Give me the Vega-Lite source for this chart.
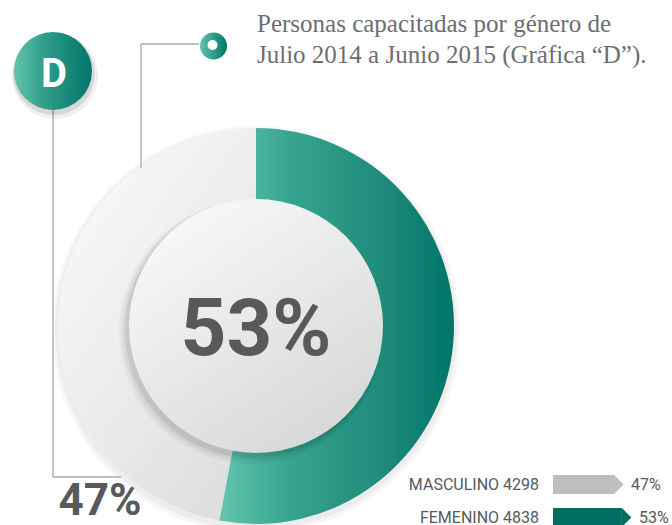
{
  "$schema": "https://vega.github.io/schema/vega-lite/v6.json",
  "width": 672,
  "height": 525,
  "autosize": {"type": "none"},
  "padding": 0,
  "background": "white",
  "config": {"view": {"stroke": null}, "axis": {"disable": true}},
  "data": {"values": [
    {"gender": "Masculino", "legend": "MASCULINO 4298", "count": 4298, "pct": 0.47},
    {"gender": "Femenino", "legend": "FEMENINO 4838", "count": 4838, "pct": 0.53}
  ]},
  "layer": [
    {
      "layer": [
        {
          "transform": [{"aggregate": [{"op": "count", "as": "n"}]}],
          "mark": {"type": "point", "shape": "circle", "filled": true, "fill": "#000", "opacity": 0.03, "size": 166464, "strokeWidth": 0},
          "encoding": {
            "x": {"datum": 256, "type": "quantitative", "scale": {"domain": [0, 672], "nice": false, "zero": false}, "axis": null},
            "y": {"datum": 330, "type": "quantitative", "scale": {"domain": [0, 525], "nice": false, "zero": false, "reverse": true}, "axis": null}
          }
        },
        {
          "transform": [{"aggregate": [{"op": "count", "as": "n"}]}],
          "mark": {"type": "point", "shape": "circle", "filled": true, "fill": "#000", "opacity": 0.04, "size": 161604, "strokeWidth": 0},
          "encoding": {
            "x": {"datum": 256, "type": "quantitative", "scale": {"domain": [0, 672], "nice": false, "zero": false}, "axis": null},
            "y": {"datum": 329, "type": "quantitative", "scale": {"domain": [0, 525], "nice": false, "zero": false, "reverse": true}, "axis": null}
          }
        },
        {
          "mark": {"type": "arc", "outerRadius": 198, "innerRadius": 110, "stroke": null},
          "encoding": {
            "x": {"datum": 256, "type": "quantitative", "scale": {"domain": [0, 672], "nice": false, "zero": false}, "axis": null},
            "y": {"datum": 326, "type": "quantitative", "scale": {"domain": [0, 525], "nice": false, "zero": false, "reverse": true}, "axis": null},
            "theta": {"field": "count", "type": "quantitative", "stack": true},
            "order": {"field": "gender", "sort": "ascending"},
            "fill": {
              "condition": {
                "test": "datum.gender === 'Femenino'",
                "value": {"gradient": "linear", "x1": 0, "y1": 0, "x2": 1, "y2": 0, "stops": [
                  {"offset": 0, "color": "#63c5ae"},
                  {"offset": 0.3, "color": "#36a48f"},
                  {"offset": 0.7, "color": "#1e8a7a"},
                  {"offset": 1, "color": "#00756a"}
                ]}
              },
              "value": {"gradient": "linear", "x1": 0.1, "y1": 0, "x2": 0.8, "y2": 1, "stops": [
                {"offset": 0, "color": "#fbfbfb"},
                {"offset": 1, "color": "#dddede"}
              ]}
            }
          }
        },
        {
          "transform": [{"aggregate": [{"op": "count", "as": "n"}]}],
          "mark": {"type": "point", "shape": "circle", "filled": true, "fill": "#000", "opacity": 0.035, "size": 69696, "strokeWidth": 0},
          "encoding": {
            "x": {"datum": 251, "type": "quantitative", "scale": {"domain": [0, 672], "nice": false, "zero": false}, "axis": null},
            "y": {"datum": 332, "type": "quantitative", "scale": {"domain": [0, 525], "nice": false, "zero": false, "reverse": true}, "axis": null}
          }
        },
        {
          "transform": [{"aggregate": [{"op": "count", "as": "n"}]}],
          "mark": {"type": "point", "shape": "circle", "filled": true, "fill": "#000", "opacity": 0.05, "size": 67600, "strokeWidth": 0},
          "encoding": {
            "x": {"datum": 252, "type": "quantitative", "scale": {"domain": [0, 672], "nice": false, "zero": false}, "axis": null},
            "y": {"datum": 331, "type": "quantitative", "scale": {"domain": [0, 525], "nice": false, "zero": false, "reverse": true}, "axis": null}
          }
        },
        {
          "transform": [{"aggregate": [{"op": "count", "as": "n"}]}],
          "mark": {"type": "point", "shape": "circle", "filled": true, "fill": "#000", "opacity": 0.08, "size": 65536, "strokeWidth": 0},
          "encoding": {
            "x": {"datum": 253, "type": "quantitative", "scale": {"domain": [0, 672], "nice": false, "zero": false}, "axis": null},
            "y": {"datum": 330, "type": "quantitative", "scale": {"domain": [0, 525], "nice": false, "zero": false, "reverse": true}, "axis": null}
          }
        },
        {
          "transform": [{"aggregate": [{"op": "count", "as": "n"}]}],
          "mark": {"type": "point", "shape": "circle", "filled": true, "opacity": 1, "size": 64516, "strokeWidth": 0,
            "fill": {"gradient": "linear", "x1": 0.2, "y1": 0.05, "x2": 0.8, "y2": 0.95, "stops": [
              {"offset": 0, "color": "#f8f8f8"},
              {"offset": 1, "color": "#d6d7d7"}
            ]}},
          "encoding": {
            "x": {"datum": 256, "type": "quantitative", "scale": {"domain": [0, 672], "nice": false, "zero": false}, "axis": null},
            "y": {"datum": 326, "type": "quantitative", "scale": {"domain": [0, 525], "nice": false, "zero": false, "reverse": true}, "axis": null}
          }
        },
        {
          "transform": [{"filter": "datum.gender === 'Femenino'"}],
          "mark": {"type": "text", "align": "center", "baseline": "alphabetic", "fontSize": 80, "fontWeight": "bold", "font": "Roboto", "color": "#58595b"},
          "encoding": {
            "x": {"datum": 256, "type": "quantitative", "scale": {"domain": [0, 672], "nice": false, "zero": false}, "axis": null},
            "y": {"datum": 355, "type": "quantitative", "scale": {"domain": [0, 525], "nice": false, "zero": false, "reverse": true}, "axis": null},
            "text": {"field": "pct", "type": "quantitative", "format": ".0%"}
          }
        },
        {
          "transform": [{"filter": "datum.gender === 'Masculino'"}],
          "mark": {"type": "text", "align": "center", "baseline": "alphabetic", "fontSize": 44, "fontWeight": "bold", "font": "Roboto", "color": "#58595b"},
          "encoding": {
            "x": {"datum": 100, "type": "quantitative", "scale": {"domain": [0, 672], "nice": false, "zero": false}, "axis": null},
            "y": {"datum": 515, "type": "quantitative", "scale": {"domain": [0, 525], "nice": false, "zero": false, "reverse": true}, "axis": null},
            "text": {"field": "pct", "type": "quantitative", "format": ".0%"}
          }
        },
        {
          "transform": [{"aggregate": [{"op": "count", "as": "n"}]}],
          "mark": {"type": "rule", "color": "#a7a9ac", "strokeWidth": 1.3},
          "encoding": {
            "x": {"datum": 199, "type": "quantitative", "scale": {"domain": [0, 672], "nice": false, "zero": false}, "axis": null},
            "x2": {"datum": 141},
            "y": {"datum": 44, "type": "quantitative", "scale": {"domain": [0, 525], "nice": false, "zero": false, "reverse": true}, "axis": null},
            "y2": {"datum": 44}
          }
        },
        {
          "transform": [{"aggregate": [{"op": "count", "as": "n"}]}],
          "mark": {"type": "rule", "color": "#a7a9ac", "strokeWidth": 1.3},
          "encoding": {
            "x": {"datum": 141, "type": "quantitative", "scale": {"domain": [0, 672], "nice": false, "zero": false}, "axis": null},
            "x2": {"datum": 141},
            "y": {"datum": 44, "type": "quantitative", "scale": {"domain": [0, 525], "nice": false, "zero": false, "reverse": true}, "axis": null},
            "y2": {"datum": 168}
          }
        },
        {
          "transform": [{"aggregate": [{"op": "count", "as": "n"}]}],
          "mark": {"type": "rule", "color": "#a7a9ac", "strokeWidth": 1.3},
          "encoding": {
            "x": {"datum": 53, "type": "quantitative", "scale": {"domain": [0, 672], "nice": false, "zero": false}, "axis": null},
            "x2": {"datum": 53},
            "y": {"datum": 100, "type": "quantitative", "scale": {"domain": [0, 525], "nice": false, "zero": false, "reverse": true}, "axis": null},
            "y2": {"datum": 477}
          }
        },
        {
          "transform": [{"aggregate": [{"op": "count", "as": "n"}]}],
          "mark": {"type": "rule", "color": "#a7a9ac", "strokeWidth": 1.3},
          "encoding": {
            "x": {"datum": 53, "type": "quantitative", "scale": {"domain": [0, 672], "nice": false, "zero": false}, "axis": null},
            "x2": {"datum": 121},
            "y": {"datum": 477, "type": "quantitative", "scale": {"domain": [0, 525], "nice": false, "zero": false, "reverse": true}, "axis": null},
            "y2": {"datum": 477}
          }
        },
        {
          "transform": [{"aggregate": [{"op": "count", "as": "n"}]}],
          "mark": {"type": "point", "shape": "circle", "filled": true, "fill": "#000", "opacity": 0.06, "size": 7396, "strokeWidth": 0},
          "encoding": {
            "x": {"datum": 55, "type": "quantitative", "scale": {"domain": [0, 672], "nice": false, "zero": false}, "axis": null},
            "y": {"datum": 76, "type": "quantitative", "scale": {"domain": [0, 525], "nice": false, "zero": false, "reverse": true}, "axis": null}
          }
        },
        {
          "transform": [{"aggregate": [{"op": "count", "as": "n"}]}],
          "mark": {"type": "point", "shape": "circle", "filled": true, "fill": "#000", "opacity": 0.1, "size": 6724, "strokeWidth": 0},
          "encoding": {
            "x": {"datum": 54, "type": "quantitative", "scale": {"domain": [0, 672], "nice": false, "zero": false}, "axis": null},
            "y": {"datum": 74, "type": "quantitative", "scale": {"domain": [0, 525], "nice": false, "zero": false, "reverse": true}, "axis": null}
          }
        },
        {
          "transform": [{"aggregate": [{"op": "count", "as": "n"}]}],
          "mark": {"type": "point", "shape": "circle", "filled": true, "opacity": 1, "size": 6084, "strokeWidth": 0,
            "fill": {"gradient": "linear", "x1": 0, "y1": 0, "x2": 1, "y2": 0, "stops": [
              {"offset": 0, "color": "#62c3ac"},
              {"offset": 0.4, "color": "#2f9d8a"},
              {"offset": 1, "color": "#00766a"}
            ]}},
          "encoding": {
            "x": {"datum": 53, "type": "quantitative", "scale": {"domain": [0, 672], "nice": false, "zero": false}, "axis": null},
            "y": {"datum": 71, "type": "quantitative", "scale": {"domain": [0, 525], "nice": false, "zero": false, "reverse": true}, "axis": null}
          }
        },
        {
          "transform": [{"aggregate": [{"op": "count", "as": "n"}]}],
          "mark": {"type": "text", "text": "D", "align": "center", "baseline": "alphabetic", "fontSize": 40, "fontWeight": "bold", "font": "Roboto", "color": "white"},
          "encoding": {
            "x": {"datum": 54, "type": "quantitative", "scale": {"domain": [0, 672], "nice": false, "zero": false}, "axis": null},
            "y": {"datum": 87, "type": "quantitative", "scale": {"domain": [0, 525], "nice": false, "zero": false, "reverse": true}, "axis": null}
          }
        },
        {
          "transform": [{"aggregate": [{"op": "count", "as": "n"}]}],
          "mark": {"type": "point", "shape": "circle", "filled": true, "opacity": 1, "size": 729, "strokeWidth": 0,
            "fill": {"gradient": "linear", "x1": 0, "y1": 0, "x2": 1, "y2": 0, "stops": [
              {"offset": 0, "color": "#62c3ac"},
              {"offset": 1, "color": "#00766a"}
            ]}},
          "encoding": {
            "x": {"datum": 213.5, "type": "quantitative", "scale": {"domain": [0, 672], "nice": false, "zero": false}, "axis": null},
            "y": {"datum": 46, "type": "quantitative", "scale": {"domain": [0, 525], "nice": false, "zero": false, "reverse": true}, "axis": null}
          }
        },
        {
          "transform": [{"aggregate": [{"op": "count", "as": "n"}]}],
          "mark": {"type": "point", "shape": "circle", "filled": true, "opacity": 1, "size": 100, "strokeWidth": 0, "fill": "white"},
          "encoding": {
            "x": {"datum": 212.5, "type": "quantitative", "scale": {"domain": [0, 672], "nice": false, "zero": false}, "axis": null},
            "y": {"datum": 45, "type": "quantitative", "scale": {"domain": [0, 525], "nice": false, "zero": false, "reverse": true}, "axis": null}
          }
        },
        {
          "transform": [{"aggregate": [{"op": "count", "as": "n"}]}],
          "mark": {"type": "text", "text": ["Personas capacitadas por género de", "Julio 2014 a Junio 2015 (Gráfica “D”)."], "align": "left", "baseline": "alphabetic", "lineHeight": 31.5, "fontSize": 25, "font": "Liberation Serif", "color": "#6d6e71"},
          "encoding": {
            "x": {"datum": 257, "type": "quantitative", "scale": {"domain": [0, 672], "nice": false, "zero": false}, "axis": null},
            "y": {"datum": 31.5, "type": "quantitative", "scale": {"domain": [0, 525], "nice": false, "zero": false, "reverse": true}, "axis": null}
          }
        }
      ]
    },
    {
      "layer": [
        {
          "mark": {"type": "bar", "height": 19},
          "encoding": {
            "x": {"field": "pct", "type": "quantitative", "scale": {"domain": [0, 1], "range": [553, 683], "nice": false, "zero": true}, "axis": null},
            "y": {"field": "gender", "type": "nominal", "scale": {"domain": ["Masculino", "Femenino"], "range": [468, 534], "paddingInner": 0, "paddingOuter": 0}, "axis": null},
            "color": {"field": "gender", "type": "nominal", "scale": {"domain": ["Masculino", "Femenino"], "range": ["#bcbec0", "#006f62"]}, "legend": null}
          }
        },
        {
          "mark": {"type": "point", "shape": "M0,-1L1,0L0,1Z", "size": 361, "filled": true, "opacity": 1, "strokeWidth": 0},
          "encoding": {
            "x": {"field": "pct", "type": "quantitative", "axis": null},
            "y": {"field": "gender", "type": "nominal", "axis": null},
            "color": {"field": "gender", "type": "nominal", "legend": null}
          }
        },
        {
          "mark": {"type": "text", "align": "right", "dx": -14, "baseline": "middle", "fontSize": 16, "font": "Roboto", "color": "#58595b"},
          "encoding": {
            "x": {"datum": 0, "type": "quantitative", "axis": null},
            "y": {"field": "gender", "type": "nominal", "axis": null},
            "text": {"field": "legend", "type": "nominal"}
          }
        },
        {
          "mark": {"type": "text", "align": "left", "dx": 17, "baseline": "middle", "fontSize": 16, "font": "Roboto", "color": "#58595b"},
          "encoding": {
            "x": {"field": "pct", "type": "quantitative", "axis": null},
            "y": {"field": "gender", "type": "nominal", "axis": null},
            "text": {"field": "pct", "type": "quantitative", "format": ".0%"}
          }
        }
      ]
    }
  ],
  "resolve": {"scale": {"x": "independent", "y": "independent", "color": "independent"}}
}
